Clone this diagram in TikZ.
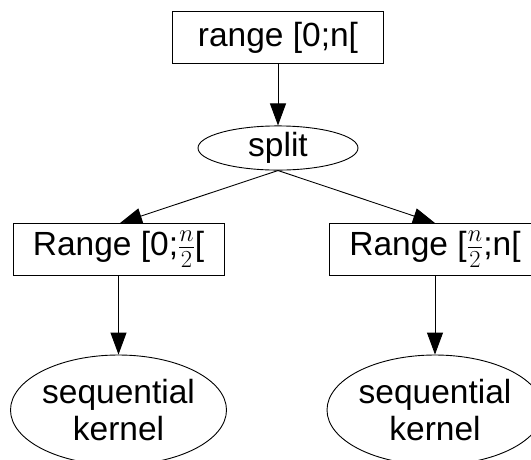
\documentclass[tikz,border=0pt]{standalone}
\usepackage{fix-cm}
\usepackage{fontspec}
\setmainfont{Liberation Sans}
\usetikzlibrary{arrows.meta,shapes.geometric}
\newcommand{\halfn}{{\fontsize{35}{38}\selectfont$\frac{n}{2}$}}
\begin{document}
\begin{tikzpicture}[x=1pt,y=-1pt,
  every node/.style={font=\fontsize{33.5}{37}\selectfont, inner sep=0pt, align=center},
  boxnode/.style={draw, line width=0.9pt, minimum width=211pt, minimum height=52pt},
  ellnode/.style={draw, ellipse, line width=0.9pt},
  arr/.style={line width=0.9pt, -{Triangle[length=22pt,width=16pt]}}]
\useasboundingbox (0,0) rectangle (531,459);
\node[boxnode] (top) at (278,37.5) {range [0;n[};
\node[ellnode, minimum width=160pt, minimum height=44pt] (split) at (278,148) {split};
\node[boxnode] (lb) at (118.5,249.5) {Range [0;\halfn[};
\node[boxnode] (rb) at (435,249.5) {Range [\halfn;n[};
\node[ellnode, minimum width=211pt, minimum height=110pt] (lk) at (118.5,410) {sequential\\kernel};
\node[ellnode, minimum width=211pt, minimum height=110pt] (rk) at (435,410) {sequential\\kernel};
\draw[arr] (top.south) -- (split.north);
\draw[arr] (split.south) -- ([xshift=1.5pt]lb.north);
\draw[arr] (split.south) -- (rb.north);
\draw[arr] (lb.south) -- (lk.north);
\draw[arr] (rb.south) -- (rk.north);
\end{tikzpicture}
\end{document}
